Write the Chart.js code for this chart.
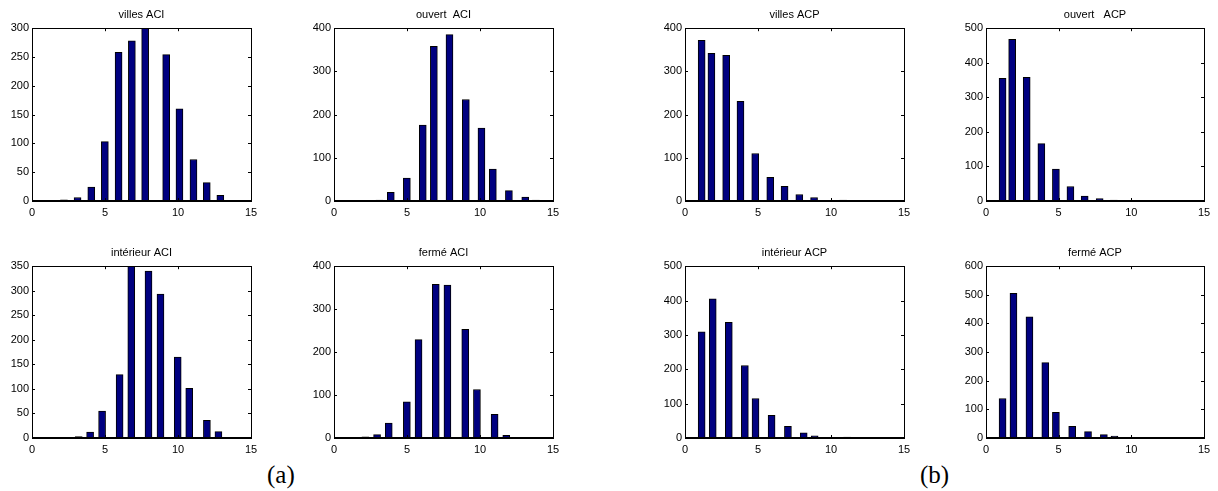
<!DOCTYPE html>
<html>
<head>
<meta charset="utf-8">
<script src="https://cdn.jsdelivr.net/npm/chart.js@4.4.0/dist/chart.umd.min.js"></script>
<style>
  body { margin: 0; background: #fff; width: 1218px; height: 491px; position: relative; overflow: hidden; }
  .panel { position: absolute; }
  .tag { position: absolute; font-family: "Liberation Serif", "Times New Roman", serif; font-size: 25px; line-height: 1; color: #000; }
</style>
</head>
<body>
<div class="panel" style="left:0px;top:0px"><canvas id="c1" width="265" height="220"></canvas></div>
<div class="panel" style="left:302px;top:0px"><canvas id="c2" width="265" height="220"></canvas></div>
<div class="panel" style="left:653px;top:0px"><canvas id="c3" width="265" height="220"></canvas></div>
<div class="panel" style="left:954px;top:0px"><canvas id="c4" width="264" height="220"></canvas></div>
<div class="panel" style="left:0px;top:238px"><canvas id="c5" width="265" height="219"></canvas></div>
<div class="panel" style="left:302px;top:238px"><canvas id="c6" width="265" height="219"></canvas></div>
<div class="panel" style="left:653px;top:238px"><canvas id="c7" width="265" height="219"></canvas></div>
<div class="panel" style="left:954px;top:238px"><canvas id="c8" width="264" height="219"></canvas></div>
<div class="tag" style="left:267px;top:462px">(a)</div>
<div class="tag" style="left:920px;top:462px">(b)</div>
<script>
// bin centres and counts
const villesAciX = [2.19, 3.12, 4.06, 4.99, 5.93, 6.84, 7.75, 9.19, 10.1, 11.06, 11.97, 12.9, 13.74];
const villesAciY = [2, 6, 24, 103, 258, 278, 300, 254, 160, 72, 32, 10, 1];

const ouvertAciX = [3.11, 3.89, 4.99, 6.08, 6.84, 7.91, 9.03, 10.1, 10.88, 11.98, 13.1, 13.83];
const ouvertAciY = [2, 20, 53, 176, 358, 385, 235, 169, 74, 24, 9, 2];

const villesAcpX = [1.14, 1.81, 2.82, 3.8, 4.81, 5.84, 6.82, 7.83, 8.84, 9.85, 10.83];
const villesAcpY = [372, 342, 337, 231, 110, 55, 34, 15, 8, 1, 2];

const ouvertAcpX = [1.14, 1.8, 2.8, 3.81, 4.81, 5.81, 6.79, 7.82, 8.8, 9.8, 10.8];
const ouvertAcpY = [355, 468, 358, 166, 92, 42, 14, 7, 3, 1, 1];

const interieurAciX = [3.2, 3.98, 4.8, 6.0, 6.8, 7.98, 8.8, 9.98, 10.77, 11.98, 12.77, 13.98, 14.73];
const interieurAciY = [3, 12, 55, 129, 350, 340, 293, 165, 101, 36, 13, 1, 1];

const fermeAciX = [2.15, 2.95, 3.75, 4.99, 5.79, 6.97, 7.77, 8.99, 9.79, 11.0, 11.8, 12.99, 13.79];
const fermeAciY = [3, 8, 35, 84, 229, 358, 356, 253, 113, 55, 6, 1, 1];

const interieurAcpX = [1.14, 1.9, 3.0, 4.1, 4.83, 5.93, 7.05, 8.13, 8.88, 9.98, 11.1, 11.84];
const interieurAcpY = [309, 405, 337, 211, 115, 66, 34, 15, 6, 2, 3, 2];

const fermeAcpX = [1.14, 1.89, 2.99, 4.08, 4.81, 5.93, 7.02, 8.11, 8.84, 9.94, 11.06, 11.78];
const fermeAcpY = [138, 505, 423, 263, 90, 41, 22, 12, 7, 2, 2, 1];

// axis limits: x = [min, max, step], y = [max, step]
const xLimits = [0, 15, 5];
const yLimits = {
  villesAci: [300, 50], ouvertAci: [400, 100], villesAcp: [400, 100], ouvertAcp: [500, 100],
  interieurAci: [350, 50], fermeAci: [400, 100], interieurAcp: [500, 100], fermeAcp: [600, 100]
};

const FONT = 'Liberation Sans, Arial, sans-serif';

// matlab-like box with inward ticks
const boxPlugin = {
  id: 'matlabBox',
  afterDatasetsDraw(chart) {
    const { ctx, chartArea: a, scales } = chart;
    ctx.save();
    ctx.strokeStyle = '#000';
    ctx.lineWidth = 1;
    ctx.strokeRect(Math.round(a.left) + 0.5, Math.round(a.top) + 0.5,
      Math.round(a.right - a.left), Math.round(a.bottom - a.top));
    // thicker baseline like the zero-height bars
    ctx.lineWidth = 2;
    ctx.beginPath();
    ctx.moveTo(a.left, Math.round(a.bottom));
    ctx.lineTo(a.right, Math.round(a.bottom));
    ctx.stroke();
    ctx.lineWidth = 1;
    const len = 3;
    ctx.beginPath();
    scales.x.ticks.forEach(t => {
      const px = Math.round(scales.x.getPixelForValue(t.value)) + 0.5;
      ctx.moveTo(px, a.bottom); ctx.lineTo(px, a.bottom - len);
      ctx.moveTo(px, a.top); ctx.lineTo(px, a.top + len);
    });
    scales.y.ticks.forEach(t => {
      const py = Math.round(scales.y.getPixelForValue(t.value)) + 0.5;
      ctx.moveTo(a.left, py); ctx.lineTo(a.left + len, py);
      ctx.moveTo(a.right, py); ctx.lineTo(a.right - len, py);
    });
    ctx.stroke();
    ctx.restore();
  }
};

function makePanel(id, title, xs, ys, lim) {
  const data = xs.map((x, i) => ({ x: x, y: ys[i] }));
  new Chart(document.getElementById(id), {
    type: 'bar',
    data: {
      datasets: [{
        data: data,
        backgroundColor: '#000080',
        borderColor: '#000',
        borderWidth: 1,
        borderSkipped: false,
        barThickness: 7
      }]
    },
    options: {
      responsive: false,
      animation: false,
      layout: { padding: { left: 0, right: 14, top: 0, bottom: 0 } },
      plugins: {
        legend: { display: false },
        tooltip: { enabled: false },
        title: {
          display: true,
          text: title,
          fullSize: false,
          color: '#000',
          font: { family: FONT, size: 11, weight: 'normal' },
          padding: { top: 8, bottom: 7 }
        }
      },
      scales: {
        x: {
          type: 'linear',
          min: xLimits[0], max: xLimits[1],
          offset: false,
          grid: { display: false, offset: false, drawTicks: false },
          border: { display: false },
          ticks: { stepSize: xLimits[2], color: '#000', padding: 5, maxRotation: 0,
                   font: { family: FONT, size: 11 } },
          afterFit(s) { s.height = 19; }
        },
        y: {
          min: 0, max: lim[0],
          grid: { display: false, drawTicks: false },
          border: { display: false },
          ticks: { stepSize: lim[1], color: '#000', padding: 3,
                   font: { family: FONT, size: 11 } },
          afterFit(s) { s.width = 32; }
        }
      }
    },
    plugins: [boxPlugin]
  });
}

makePanel('c1', 'villes ACI', villesAciX, villesAciY, yLimits.villesAci);
makePanel('c2', 'ouvert  ACI', ouvertAciX, ouvertAciY, yLimits.ouvertAci);
makePanel('c3', 'villes ACP', villesAcpX, villesAcpY, yLimits.villesAcp);
makePanel('c4', 'ouvert   ACP', ouvertAcpX, ouvertAcpY, yLimits.ouvertAcp);
makePanel('c5', 'intérieur ACI', interieurAciX, interieurAciY, yLimits.interieurAci);
makePanel('c6', 'fermé ACI', fermeAciX, fermeAciY, yLimits.fermeAci);
makePanel('c7', 'intérieur ACP', interieurAcpX, interieurAcpY, yLimits.interieurAcp);
makePanel('c8', 'fermé ACP', fermeAcpX, fermeAcpY, yLimits.fermeAcp);
</script>
</body>
</html>
